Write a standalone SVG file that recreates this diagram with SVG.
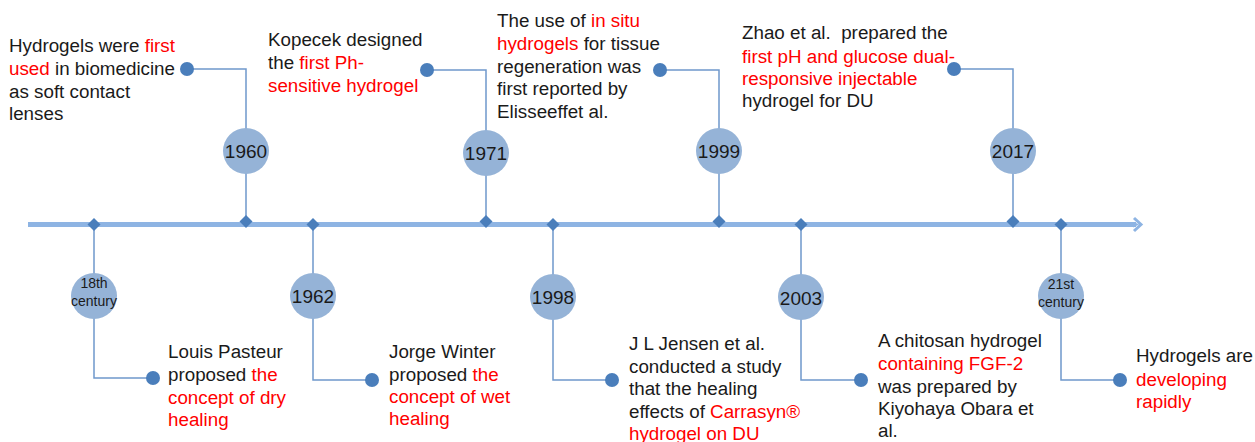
<svg xmlns="http://www.w3.org/2000/svg" width="1255" height="442" viewBox="0 0 1255 442">
<style>
text{font-family:"Liberation Sans",Arial,sans-serif;font-size:18.8px;fill:#1a1a1a;white-space:pre}
.r{fill:#ff0000}
.yr{text-anchor:middle;font-size:19px}
.sm{text-anchor:middle;font-size:14px}
.conn{fill:none;stroke:#6f98cc;stroke-width:1.5}
.circ{fill:#95b3d7}
.dot{fill:#4a7ebb}
.dia{fill:#4a7ebb}
</style>
<defs>
<marker id="ah" markerWidth="6" markerHeight="6" refX="3" refY="3" orient="auto" markerUnits="userSpaceOnUse">
<path d="M0,0 L6,3 L0,6 Z" fill="#8eb4e3"/>
</marker>
</defs>
<g id="connectors">
<line x1="28" y1="224.5" x2="1136" y2="224.5" stroke="#8eb4e3" stroke-width="5" marker-end="url(#ah)"/>
<path d="M1134,218 L1141,224.5 L1134,231" fill="none" stroke="#8eb4e3" stroke-width="3"/>
<path class="conn" d="M246,222 V69 H187"/>
<path class="conn" d="M486,222 V70 H427"/>
<path class="conn" d="M719,222 V70 H660"/>
<path class="conn" d="M1013,222 V69 H954"/>
<path class="conn" d="M94,225 V378 H153"/>
<path class="conn" d="M313,225 V380 H372"/>
<path class="conn" d="M553,225 V380 H612"/>
<path class="conn" d="M801,225 V380 H861"/>
<path class="conn" d="M1061,225 V380 H1120"/>
</g>
<g id="n1960">
<path class="dia" d="M246,215 L252.5,221.5 L246,228 L239.5,221.5 Z"/>
<circle class="circ" cx="246" cy="151" r="23"/>
<text class="yr" x="246" y="158">1960</text>
<circle class="dot" cx="187" cy="69" r="7"/>
<text x="9" y="52">Hydrogels were <tspan class="r">first</tspan></text>
<text x="9" y="75"><tspan class="r">used</tspan> in biomedicine</text>
<text x="9" y="98">as soft contact</text>
<text x="9" y="120">lenses</text>
</g>
<g id="n1971">
<path class="dia" d="M486,215 L492.5,221.5 L486,228 L479.5,221.5 Z"/>
<circle class="circ" cx="486" cy="153" r="23"/>
<text class="yr" x="486" y="160">1971</text>
<circle class="dot" cx="427" cy="70" r="7"/>
<text x="268" y="46">Kopecek designed</text>
<text x="268" y="69">the <tspan class="r">first Ph-</tspan></text>
<text x="268" y="92" class="r">sensitive hydrogel</text>
</g>
<g id="n1999">
<path class="dia" d="M719,215 L725.5,221.5 L719,228 L712.5,221.5 Z"/>
<circle class="circ" cx="719" cy="151" r="23"/>
<text class="yr" x="719" y="158">1999</text>
<circle class="dot" cx="660" cy="70" r="7"/>
<text x="497" y="27">The use of <tspan class="r">in situ</tspan></text>
<text x="497" y="50"><tspan class="r">hydrogels</tspan> for tissue</text>
<text x="497" y="73">regeneration was</text>
<text x="497" y="95">first reported by</text>
<text x="497" y="118">Elisseeffet al.</text>
</g>
<g id="n2017">
<path class="dia" d="M1013,215 L1019.5,221.5 L1013,228 L1006.5,221.5 Z"/>
<circle class="circ" cx="1013" cy="151" r="23"/>
<text class="yr" x="1013" y="158">2017</text>
<circle class="dot" cx="954" cy="69" r="7"/>
<text x="742" y="39">Zhao et al.  prepared the</text>
<text x="742" y="63" class="r">first pH and glucose dual-</text>
<text x="742" y="85" class="r">responsive injectable</text>
<text x="742" y="107">hydrogel for DU</text>
</g>
<g id="n18th">
<path class="dia" d="M94,218 L100.5,224.5 L94,231 L87.5,224.5 Z"/>
<circle class="circ" cx="94" cy="296" r="23"/>
<text class="sm" x="94" y="288">18th</text>
<text class="sm" x="94" y="306">century</text>
<circle class="dot" cx="153" cy="378" r="7"/>
<text x="168" y="358">Louis Pasteur</text>
<text x="168" y="381">proposed <tspan class="r">the</tspan></text>
<text x="168" y="404" class="r">concept of dry</text>
<text x="168" y="426" class="r">healing</text>
</g>
<g id="n1962">
<path class="dia" d="M313,218 L319.5,224.5 L313,231 L306.5,224.5 Z"/>
<circle class="circ" cx="313" cy="296" r="23"/>
<text class="yr" x="313" y="303">1962</text>
<circle class="dot" cx="372" cy="380" r="7"/>
<text x="389" y="358">Jorge Winter</text>
<text x="389" y="381">proposed <tspan class="r">the</tspan></text>
<text x="389" y="403" class="r">concept of wet</text>
<text x="389" y="425" class="r">healing</text>
</g>
<g id="n1998">
<path class="dia" d="M553,218 L559.5,224.5 L553,231 L546.5,224.5 Z"/>
<circle class="circ" cx="553" cy="297" r="23"/>
<text class="yr" x="553" y="304">1998</text>
<circle class="dot" cx="612" cy="380" r="7"/>
<text x="629" y="350">J L Jensen et al.</text>
<text x="629" y="373">conducted a study</text>
<text x="629" y="395">that the healing</text>
<text x="629" y="418">effects of <tspan class="r">Carrasyn®</tspan></text>
<text x="629" y="440" class="r">hydrogel on DU</text>
</g>
<g id="n2003">
<path class="dia" d="M801,218 L807.5,224.5 L801,231 L794.5,224.5 Z"/>
<circle class="circ" cx="801" cy="297" r="23"/>
<text class="yr" x="801" y="305">2003</text>
<circle class="dot" cx="861" cy="380" r="7"/>
<text x="878" y="347">A chitosan hydrogel</text>
<text x="878" y="370" class="r">containing FGF-2</text>
<text x="878" y="393">was prepared by</text>
<text x="878" y="415">Kiyohaya Obara et</text>
<text x="878" y="437">al.</text>
</g>
<g id="n21st">
<path class="dia" d="M1061,218 L1067.5,224.5 L1061,231 L1054.5,224.5 Z"/>
<circle class="circ" cx="1061" cy="296" r="23"/>
<text class="sm" x="1061" y="289">21st</text>
<text class="sm" x="1061" y="307">century</text>
<circle class="dot" cx="1120" cy="380" r="7"/>
<text x="1136" y="362">Hydrogels are</text>
<text x="1136" y="386" class="r">developing</text>
<text x="1136" y="408" class="r">rapidly</text>
</g>
</svg>
